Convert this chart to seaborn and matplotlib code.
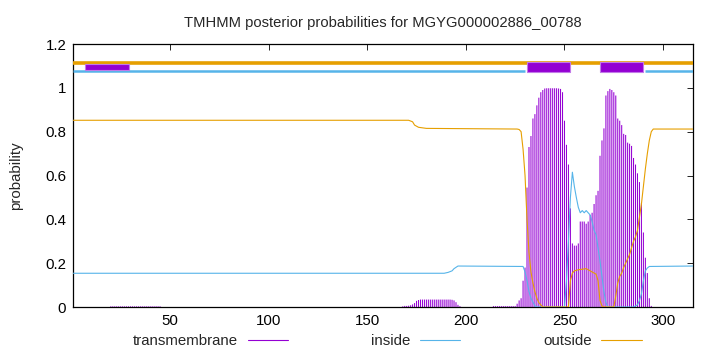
import numpy as np
import pandas as pd
import matplotlib
matplotlib.use("Agg")
import matplotlib.pyplot as plt
import seaborn as sns
from matplotlib.lines import Line2D

# ---------------- data ----------------
title = "TMHMM posterior probabilities for MGYG000002886_00788"
seq_len = 315
x_ticks = [50, 100, 150, 200, 250, 300]
y_ticks = [0, 0.2, 0.4, 0.6, 0.8, 1, 1.2]
y_tick_labels = ["0", "0.2", "0.4", "0.6", "0.8", "1", "1.2"]
legend_labels = ["transmembrane", "inside", "outside"]

# transmembrane posterior (impulses), given as runs of consecutive residues
tm_seg_starts = [20, 168, 214, 227]
tm_seg_values = [
    [0.003] * 26,
    [0.003, 0.005, 0.005, 0.006, 0.008, 0.012, 0.018, 0.028, 0.032,
     0.034, 0.034, 0.034, 0.034, 0.034, 0.034, 0.034, 0.034,
     0.034, 0.034, 0.034, 0.034, 0.034, 0.034, 0.034, 0.034,
     0.033, 0.030, 0.022, 0.010, 0.004],
    [0.004, 0.004, 0.004, 0.004, 0.004, 0.004, 0.004, 0.004, 0.004, 0.004,
     0.004, 0.004, 0.015],
    [0.03, 0.04, 0.12, 0.18, 0.545, 0.73, 0.78, 0.86, 0.88, 0.92, 0.955, 0.98, 0.99,
     0.997, 0.998, 0.998, 0.998, 0.998, 0.998, 0.998, 0.997, 0.995,
     0.98, 0.85, 0.74, 0.65, 0.45, 0.29, 0.28, 0.28, 0.29, 0.39, 0.39, 0.39, 0.38, 0.39,
     0.42, 0.43, 0.47, 0.51, 0.53, 0.69, 0.76, 0.815, 0.965, 0.985, 0.995, 0.99, 0.98, 0.965,
     0.86, 0.85, 0.83, 0.79, 0.785, 0.75, 0.745, 0.735, 0.68, 0.65, 0.61, 0.57, 0.475,
     0.34, 0.225, 0.155, 0.04, 0.005],
]

inside_pos = [1, 189, 191, 193, 194, 196, 229, 230, 231, 232, 233, 235, 236, 250,
              251, 252, 253, 254, 255, 256, 257, 258, 259, 260, 261, 262, 263, 264,
              265, 266, 267, 268, 269, 270, 271, 272, 285, 287, 288, 289, 290, 291,
              292, 293, 315]
inside_prob = [0.154, 0.154, 0.158, 0.165, 0.175, 0.187, 0.185, 0.16, 0.12, 0.07, 0.04,
               0.005, 0.0, 0.0,
               0.12, 0.30, 0.50, 0.615, 0.55, 0.50, 0.455, 0.43, 0.44, 0.43, 0.44, 0.43,
               0.42, 0.39, 0.35, 0.33, 0.27, 0.21, 0.14, 0.07, 0.02, 0.0, 0.0, 0.01,
               0.03, 0.06, 0.12, 0.165, 0.178, 0.185, 0.187]

outside_pos = [1, 171, 173, 174, 176, 180, 226, 227, 228, 229, 230, 231, 232, 233,
               234, 235, 236, 237, 238, 239, 252, 253, 254, 255, 257, 261, 263, 265,
               266, 267, 268, 269, 270, 275, 276, 277, 278, 279, 280, 281, 282, 283,
               284, 285, 286, 287, 288, 289, 290, 291, 292, 293, 294, 295, 315]
outside_prob = [0.852, 0.852, 0.845, 0.83, 0.82, 0.815, 0.812, 0.81, 0.80, 0.72, 0.60,
                0.40, 0.25, 0.16, 0.11, 0.07, 0.04, 0.02, 0.01, 0.0, 0.0, 0.12, 0.155,
                0.165, 0.17, 0.175, 0.165, 0.155, 0.15, 0.12, 0.03, 0.005, 0.0, 0.0,
                0.05, 0.11, 0.14, 0.155, 0.18, 0.20, 0.22, 0.24, 0.27, 0.30, 0.32, 0.35,
                0.41, 0.47, 0.55, 0.63, 0.70, 0.76, 0.80, 0.812, 0.812]

# predicted topology shown above the curves
outside_spans = [(1, 315)]
inside_spans = [(1, 230), (291, 315)]
signal_spans = [(7, 29)]
tm_spans = [(231, 253), (268, 290)]

# ---------------- style ----------------
PURPLE = "#9400d3"
BLUE = "#56b4e9"
ORANGE = "#e69f00"

sns.set_theme(style="white")
plt.rcParams["font.family"] = ["Liberation Sans", "DejaVu Sans"]
plt.rcParams["font.size"] = 10.8

tm_pos = np.concatenate([np.arange(s, s + len(v)) for s, v in zip(tm_seg_starts, tm_seg_values)])
tm_val = np.concatenate([np.array(v) for v in tm_seg_values])

df_in = pd.DataFrame({"pos": inside_pos, "prob": inside_prob})
df_out = pd.DataFrame({"pos": outside_pos, "prob": outside_prob})

fig = plt.figure(figsize=(7.2, 3.52), dpi=100)
ax = fig.add_axes([0.1018, 0.1278, 0.8603, 0.7472])

imp = ax.vlines(tm_pos, 0, tm_val, color=PURPLE, lw=0.75, zorder=2)
imp.set_snap(False)
sns.lineplot(data=df_in, x="pos", y="prob", ax=ax, color=BLUE, lw=0.8,
             estimator=None, sort=False, legend=False, zorder=3)
sns.lineplot(data=df_out, x="pos", y="prob", ax=ax, color=ORANGE, lw=0.8,
             estimator=None, sort=False, legend=False, zorder=3)

for s, e in outside_spans:
    ax.hlines(1.115, s, e, color=ORANGE, lw=2.6, zorder=4)
for s, e in inside_spans:
    ax.hlines(1.076, s, e, color=BLUE, lw=1.8, zorder=4)
ax.broken_barh([(s, e - s) for s, e in signal_spans], (1.080, 0.029),
               facecolor=PURPLE, edgecolor="#c27ae8", lw=0.8, zorder=5)
ax.broken_barh([(s, e - s) for s, e in tm_spans], (1.071, 0.048),
               facecolor=PURPLE, edgecolor="#c27ae8", lw=0.8, zorder=5)

ax.set_xlim(1, seq_len)
ax.set_ylim(0, 1.2)
ax.set_xticks(x_ticks)
ax.set_yticks(y_ticks)
ax.set_yticklabels(y_tick_labels)
ax.set_xlabel("")
ax.set_ylabel("probability", fontsize=10.8, labelpad=16)
ax.set_title(title, fontsize=10.6, pad=12)
ax.tick_params(direction="in", top=True, right=True, length=4, width=0.6,
               labelsize=10.8, colors="black", pad=5)
for sp in ax.spines.values():
    sp.set_color("black")
    sp.set_linewidth(0.9)

handles = [Line2D([], [], color=c, lw=0.8) for c in (PURPLE, BLUE, ORANGE)]
ax.legend(handles, legend_labels, loc="center", bbox_to_anchor=(0.538, 0.03),
          bbox_transform=fig.transFigure, ncol=3, markerfirst=False, frameon=False,
          handlelength=2.7, handletextpad=0.65, columnspacing=5.5, fontsize=10.8)

fig.savefig("out.png", dpi=100)
